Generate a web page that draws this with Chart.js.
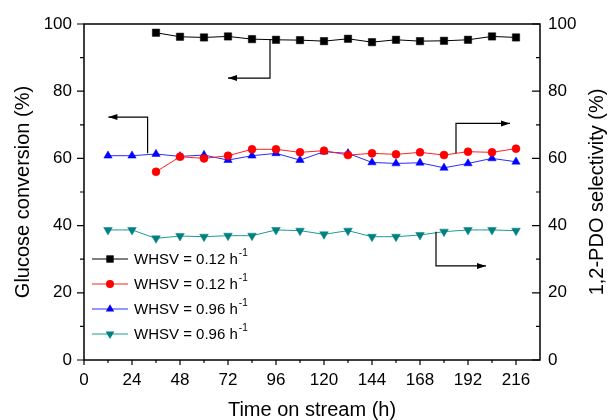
<!DOCTYPE html>
<html lang="en">
<head>
    <meta charset="UTF-8">
    <title>Glucose conversion and 1,2-PDO selectivity vs time on stream</title>
    <style>
        html, body {
            margin: 0;
            padding: 0;
            background: #fff;
        }

        .chart-box {
            width: 608px;
            height: 420px;
        }
    </style>
</head>
<body>
    <div class="chart-box">
        <canvas id="streamChart" width="608" height="420"></canvas>
    </div>

    <script src="https://cdn.jsdelivr.net/npm/chart.js"></script>
    <script>
        // time on stream (h)
        const timesLow = [36, 48, 60, 72, 84, 96, 108, 120, 132, 144, 156, 168, 180, 192, 204, 216];
        const timesHigh = [12, 24, 36, 48, 60, 72, 84, 96, 108, 120, 132, 144, 156, 168, 180, 192, 204, 216];

        // WHSV = 0.12 h-1
        const conversionLow = [97.4, 96.2, 96.0, 96.3, 95.5, 95.3, 95.2, 94.9, 95.6, 94.6, 95.3, 94.9, 95.0, 95.3, 96.3, 96.0];
        const selectivityLow = [56.0, 60.5, 60.0, 60.8, 62.7, 62.7, 61.8, 62.3, 61.0, 61.5, 61.2, 61.8, 61.0, 62.0, 61.8, 62.9];

        // WHSV = 0.96 h-1
        const conversionHigh = [60.8, 60.8, 61.3, 60.6, 61.0, 59.5, 60.8, 61.5, 59.5, 62.0, 61.5, 58.8, 58.5, 58.7, 57.2, 58.5, 60.0, 59.0];
        const selectivityHigh = [38.7, 38.7, 36.2, 36.9, 36.7, 37.0, 37.0, 38.7, 38.5, 37.4, 38.5, 36.7, 36.7, 37.2, 38.2, 38.7, 38.7, 38.5];

        const seriesLabels = ['WHSV = 0.12 h⁻¹', 'WHSV = 0.12 h⁻¹', 'WHSV = 0.96 h⁻¹', 'WHSV = 0.96 h⁻¹'];

        const xTicks = [0, 24, 48, 72, 96, 120, 144, 168, 192, 216];
        const yTicks = [0, 20, 40, 60, 80, 100];

        // arrows showing which axis each curve belongs to, in data units [h, %]
        const arrowPaths = [
            [[93, 95.5], [93, 83.9], [72, 83.9]],
            [[31.8, 61.5], [31.8, 72.3], [12.2, 72.3]],
            [[186, 61.5], [186, 70.4], [213, 70.4]],
            [[176, 38.2], [176, 28.0], [201, 28.0]]
        ];

        const FONT = "'Liberation Sans', Arial, sans-serif";

        function toPoints(xs, ys) {
            return xs.map((t, i) => ({ x: t, y: ys[i] }));
        }

        function drawMarker(ctx, style, x, y, r, rotation, color) {
            ctx.fillStyle = color;
            ctx.beginPath();
            if (style === 'rect') {
                const s = r * Math.SQRT1_2;
                ctx.rect(x - s, y - s, 2 * s, 2 * s);
            } else if (style === 'circle') {
                ctx.arc(x, y, r, 0, Math.PI * 2);
            } else {
                let rad = rotation * Math.PI / 180;
                for (let k = 0; k < 3; k++) {
                    const px = x + Math.sin(rad) * r;
                    const py = y - Math.cos(rad) * r;
                    if (k === 0) ctx.moveTo(px, py); else ctx.lineTo(px, py);
                    rad += Math.PI * 2 / 3;
                }
                ctx.closePath();
            }
            ctx.fill();
        }

        // box around the plot plus outward / inward tick marks
        const axisFramePlugin = {
            id: 'axisFrame',
            beforeDatasetsDraw(chart) {
                const { ctx, chartArea: a, scales } = chart;
                const x = scales.x, y = scales.y;
                ctx.save();
                ctx.strokeStyle = '#000';
                ctx.lineWidth = 1.5;
                ctx.strokeRect(a.left, a.top, a.right - a.left, a.bottom - a.top);

                ctx.lineWidth = 1.2;
                ctx.beginPath();
                const xStep = xTicks[1] - xTicks[0];
                xTicks.forEach(v => {
                    const px = x.getPixelForValue(v);
                    ctx.moveTo(px, a.bottom);
                    ctx.lineTo(px, a.bottom + 5);
                    const m = v + xStep / 2;
                    if (m < x.max) {
                        const pm = x.getPixelForValue(m);
                        ctx.moveTo(pm, a.bottom);
                        ctx.lineTo(pm, a.bottom + 3);
                    }
                });
                const yStep = yTicks[1] - yTicks[0];
                yTicks.forEach(v => {
                    const py = y.getPixelForValue(v);
                    ctx.moveTo(a.left, py);
                    ctx.lineTo(a.left - 7, py);
                    ctx.moveTo(a.right, py);
                    ctx.lineTo(a.right - 8, py);
                    const m = v + yStep / 2;
                    if (m < y.max) {
                        const pm = y.getPixelForValue(m);
                        ctx.moveTo(a.left, pm);
                        ctx.lineTo(a.left - 4, pm);
                        ctx.moveTo(a.right, pm);
                        ctx.lineTo(a.right - 4, pm);
                    }
                });
                ctx.stroke();
                ctx.restore();
            }
        };

        const arrowPlugin = {
            id: 'axisArrows',
            afterDatasetsDraw(chart) {
                const { ctx, scales: { x, y } } = chart;
                ctx.save();
                ctx.strokeStyle = '#000';
                ctx.fillStyle = '#000';
                ctx.lineWidth = 1.2;
                arrowPaths.forEach(path => {
                    const pts = path.map(p => [x.getPixelForValue(p[0]), y.getPixelForValue(p[1])]);
                    ctx.beginPath();
                    pts.forEach((p, i) => i ? ctx.lineTo(p[0], p[1]) : ctx.moveTo(p[0], p[1]));
                    ctx.stroke();
                    const tip = pts[pts.length - 1];
                    const prev = pts[pts.length - 2];
                    const ang = Math.atan2(tip[1] - prev[1], tip[0] - prev[0]);
                    ctx.save();
                    ctx.translate(tip[0], tip[1]);
                    ctx.rotate(ang);
                    ctx.beginPath();
                    ctx.moveTo(0, 0);
                    ctx.lineTo(-9, -3);
                    ctx.lineTo(-9, 3);
                    ctx.closePath();
                    ctx.fill();
                    ctx.restore();
                });
                ctx.restore();
            }
        };

        // legend with line + marker and superscript units
        const legendPlugin = {
            id: 'lineLegend',
            afterDraw(chart) {
                const { ctx } = chart;
                const x0 = 92, y0 = 259, rowGap = 25;
                ctx.save();
                chart.data.datasets.forEach((ds, i) => {
                    const cy = y0 + i * rowGap;
                    ctx.strokeStyle = ds.borderColor;
                    ctx.lineWidth = 1;
                    ctx.beginPath();
                    ctx.moveTo(x0, cy);
                    ctx.lineTo(x0 + 36, cy);
                    ctx.stroke();
                    drawMarker(ctx, ds.pointStyle, x0 + 18, cy, ds.pointRadius, ds.pointRotation || 0, ds.pointBackgroundColor);

                    const parts = ds.label.split(' h⁻¹');
                    ctx.fillStyle = '#000';
                    ctx.textBaseline = 'middle';
                    ctx.font = '15px ' + FONT;
                    const main = parts[0] + ' h';
                    ctx.fillText(main, x0 + 42, cy + 1);
                    const w = ctx.measureText(main).width;
                    ctx.font = '10px ' + FONT;
                    ctx.fillText('-1', x0 + 43 + w, cy - 6);
                });
                ctx.restore();
            }
        };

        const rightTitlePlugin = {
            id: 'rightTitle',
            afterDraw(chart) {
                const { ctx, chartArea: a } = chart;
                ctx.save();
                ctx.translate(597, (a.top + a.bottom) / 2);
                ctx.rotate(-Math.PI / 2);
                ctx.fillStyle = '#000';
                ctx.font = '20px ' + FONT;
                ctx.textAlign = 'center';
                ctx.textBaseline = 'middle';
                ctx.fillText('1,2-PDO selectivity (%)', 0, 0);
                ctx.restore();
            }
        };

        const tickFont = { family: FONT, size: 17 };

        new Chart(document.getElementById('streamChart').getContext('2d'), {
            type: 'line',
            data: {
                datasets: [{
                    label: seriesLabels[0],
                    data: toPoints(timesLow, conversionLow),
                    yAxisID: 'y',
                    borderColor: '#000000',
                    pointBackgroundColor: '#000000',
                    pointBorderColor: '#000000',
                    pointStyle: 'rect',
                    pointRadius: 5.2
                }, {
                    label: seriesLabels[1],
                    data: toPoints(timesLow, selectivityLow),
                    yAxisID: 'y2',
                    borderColor: '#ff2020',
                    pointBackgroundColor: '#ff0000',
                    pointBorderColor: '#ff0000',
                    pointStyle: 'circle',
                    pointRadius: 4
                }, {
                    label: seriesLabels[2],
                    data: toPoints(timesHigh, conversionHigh),
                    yAxisID: 'y',
                    borderColor: '#2a2aff',
                    pointBackgroundColor: '#0000ff',
                    pointBorderColor: '#0000ff',
                    pointStyle: 'triangle',
                    pointRadius: 4.8
                }, {
                    label: seriesLabels[3],
                    data: toPoints(timesHigh, selectivityHigh),
                    yAxisID: 'y2',
                    borderColor: '#1f9a92',
                    pointBackgroundColor: '#008080',
                    pointBorderColor: '#008080',
                    pointStyle: 'triangle',
                    pointRotation: 180,
                    pointRadius: 5
                }]
            },
            options: {
                responsive: false,
                animation: false,
                devicePixelRatio: 1,
                layout: { padding: { top: 24, left: 0, right: 0, bottom: 0 } },
                elements: {
                    line: { borderWidth: 1, tension: 0, fill: false },
                    point: { borderWidth: 0.5 }
                },
                plugins: {
                    legend: { display: false },
                    tooltip: { enabled: false }
                },
                scales: {
                    x: {
                        type: 'linear',
                        min: 0,
                        max: 228,
                        afterBuildTicks: s => { s.ticks = xTicks.map(v => ({ value: v })); },
                        afterFit: s => { s.height = 60; },
                        grid: { display: false, drawTicks: false },
                        border: { display: false },
                        ticks: { font: tickFont, color: '#000', padding: 10, maxRotation: 0, autoSkip: false },
                        title: {
                            display: true,
                            text: 'Time on stream (h)',
                            color: '#000',
                            font: { family: FONT, size: 20 },
                            padding: { top: 0, bottom: -2 }
                        }
                    },
                    y: {
                        position: 'left',
                        min: 0,
                        max: 100,
                        afterBuildTicks: s => { s.ticks = yTicks.map(v => ({ value: v })); },
                        afterFit: s => { s.width = 84; },
                        grid: { display: false, drawTicks: false },
                        border: { display: false },
                        ticks: { font: tickFont, color: '#000', padding: 12 },
                        title: {
                            display: true,
                            text: 'Glucose conversion (%)',
                            color: '#000',
                            font: { family: FONT, size: 20 },
                            padding: { top: 11, bottom: 0 }
                        }
                    },
                    y2: {
                        position: 'right',
                        min: 0,
                        max: 100,
                        afterBuildTicks: s => { s.ticks = yTicks.map(v => ({ value: v })); },
                        afterFit: s => { s.width = 68; },
                        grid: { display: false, drawTicks: false },
                        border: { display: false },
                        ticks: { font: tickFont, color: '#000', padding: 8 }
                    }
                }
            },
            plugins: [axisFramePlugin, arrowPlugin, legendPlugin, rightTitlePlugin]
        });
    </script>
</body>
</html>
